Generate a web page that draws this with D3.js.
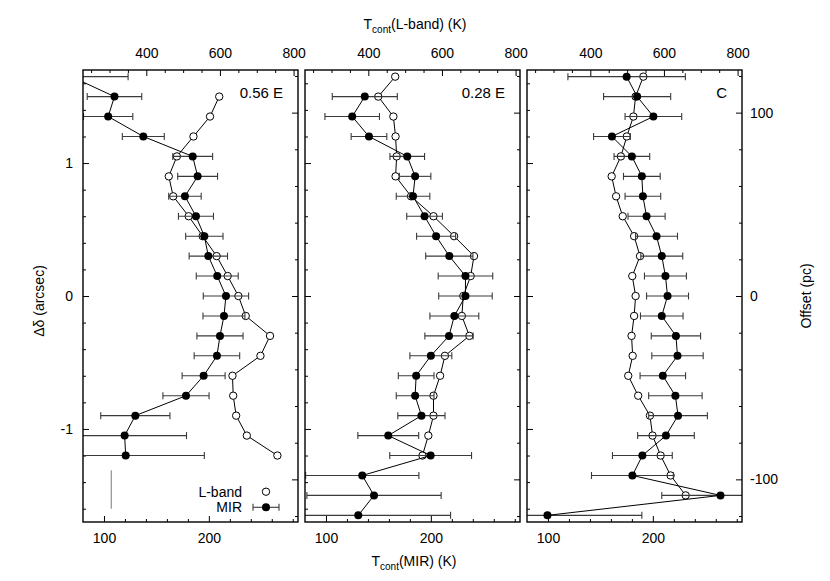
<!DOCTYPE html>
<html><head><meta charset="utf-8">
<script src="https://cdn.jsdelivr.net/npm/d3@7"></script>
<style>
body{margin:0;background:#fff;}
text{font-family:"Liberation Sans",Arial,Helvetica,sans-serif;fill:#000;}
</style>
</head><body>
<svg id="c" width="830" height="581" xmlns="http://www.w3.org/2000/svg"></svg>
<script>
// ---- data ----
const offsets = [1.65,1.5,1.35,1.2,1.05,0.9,0.75,0.6,0.45,0.3,0.15,0,-0.15,-0.3,-0.45,-0.6,-0.75,-0.9,-1.05,-1.2,-1.35,-1.5,-1.65];
const panelLabels = ["0.56 E","0.28 E","C"];

const mir_056    = [69,110,104,137.5,184.6,189.3,177.2,187.7,195.7,199.5,208,216.3,214.4,210.6,207.7,195,178.2,129.9,119.7,120.7,null,null,null];
const mirErr_056 = [54,26,23.5,20,19,19,15.5,16.7,17.8,18.3,20,21.6,20,22,21.7,20.5,22,33,59,75,null,null,null];
const lband_056  = [null,598,573,528,483,461,473,515,553,591,621,650,670,736,710,634,636,644,673,756,null,null,null];

const mir_028    = [null,137,125,141,177.5,185,183,194,205,217.6,233,233,222.4,217.3,200,186,185,191,159.4,199.8,134.6,145.8,130.8];
const mirErr_028 = [null,31,26,17,16.5,15,16,17,18.6,22.5,26,25.5,23.3,23,20,17,18,22.5,29,39,54,64,88];
const lband_028  = [473,427,468,474,477,474,516,577,633,687,678,658,654,674.5,608,595,577,577,563,547,null,null,null];

const mir_C      = [175,185,200.5,161,180,189.5,190.5,194,203.5,208.5,212,214,208.5,222,223.5,209.5,221.5,224,212.5,190,180.5,264.5,99.5];
const mirErr_C   = [56,32,27,17.5,17,17.5,17,17.7,20,20,20,20,20.3,23.5,24.5,21.7,25.5,28,27,28.5,39,56,90];
const lband_C    = [544,523,517,499,483,458,470,488,519,535,514,523,519,512,515,503,530,562,569,591,618,659,null];

const lbandTickLabels = [400,600,800];
const mirTickLabels = [100,200];
const arcsecTickLabels = [-1,0,1];
const pcTickLabels = [-100,0,100];
const pcPerArcsec = 72.5;
const resolutionBar = {t:107, from:-1.31, to:-1.6};

const panels = [
  {label:panelLabels[0], mir:mir_056, err:mirErr_056, lb:lband_056},
  {label:panelLabels[1], mir:mir_028, err:mirErr_028, lb:lband_028},
  {label:panelLabels[2], mir:mir_C,   err:mirErr_C,   lb:lband_C}
];

// ---- layout ----
const svg = d3.select("#c");
const FONT = '"Liberation Sans",Arial,Helvetica,sans-serif';
const W = 215, TOP = 70, BOT = 522;
const lefts = [83, 305, 527];
const y = d3.scaleLinear().domain([-1.7,1.7]).range([BOT,TOP]);
const yPc = d3.scaleLinear().domain([-1.7*pcPerArcsec,1.7*pcPerArcsec]).range([BOT,TOP]);
const isInt = v => Math.abs(v-Math.round(v))<1e-9;

panels.forEach((p,i)=>{
  const x0 = lefts[i], x1 = x0+W;
  const xM = d3.scaleLinear().domain([80,285]).range([x0,x1]);
  const xL = d3.scaleLinear().domain([228,812]).range([x0,x1]);

  // clip
  const cid = "clip"+i;
  svg.append("clipPath").attr("id",cid).append("rect")
    .attr("x",x0).attr("y",TOP).attr("width",W).attr("height",BOT-TOP);

  // top axis (L-band)
  const gt = svg.append("g").attr("transform",`translate(0,${TOP})`)
    .call(d3.axisTop(xL).tickValues(d3.range(250,801,50)).tickSizeInner(-3).tickSizeOuter(0)
      .tickFormat(d=> lbandTickLabels.includes(d)? d : ""));
  gt.select(".domain").remove();
  gt.attr("font-family",FONT).attr("font-size",14);
  gt.selectAll(".tick line").attr("stroke","#000").attr("y2",d=>lbandTickLabels.includes(d)?6:3);
  gt.selectAll(".tick text").attr("y",-12).attr("dy",0).attr("fill","#000");

  // bottom axis (MIR)
  const gb = svg.append("g").attr("transform",`translate(0,${BOT})`)
    .call(d3.axisBottom(xM).tickValues(d3.range(100,281,20)).tickSizeInner(-3).tickSizeOuter(0)
      .tickFormat(d=> mirTickLabels.includes(d)? d : ""));
  gb.select(".domain").remove();
  gb.attr("font-family",FONT).attr("font-size",14);
  gb.selectAll(".tick line").attr("stroke","#000").attr("y2",d=>mirTickLabels.includes(d)?-6:-3);
  gb.selectAll(".tick text").attr("y",21).attr("dy",0).attr("fill","#000");

  // left ticks (arcsec)
  const gl = svg.append("g").attr("transform",`translate(${x0},0)`)
    .call(d3.axisRight(y).tickValues(d3.range(-16,17,2).map(v=>v/10)).tickSizeInner(3).tickSizeOuter(0).tickFormat(""));
  gl.select(".domain").remove();
  gl.selectAll(".tick line").attr("stroke","#000").attr("x2",d=>isInt(d)?6:3);

  // right ticks (pc)
  const gr = svg.append("g").attr("transform",`translate(${x1},0)`)
    .call(d3.axisLeft(yPc).tickValues(d3.range(-120,121,20)).tickSizeInner(3).tickSizeOuter(0).tickFormat(""));
  gr.select(".domain").remove();
  gr.selectAll(".tick line").attr("stroke","#000").attr("x2",d=>d%100===0?-6:-3);

  // data
  const rows = offsets.map((o,k)=>({o, m:p.mir[k], e:p.err[k], l:p.lb[k]}));
  const gd = svg.append("g").attr("clip-path",`url(#${cid})`);

  const lrows = rows.filter(r=>r.l!=null);
  gd.append("path").datum(lrows).attr("fill","none").attr("stroke","#000").attr("stroke-width",1)
    .attr("d", d3.line().x(r=>xL(r.l)).y(r=>y(r.o)));
  gd.selectAll(".lb").data(lrows).join("circle").attr("class","lb")
    .attr("cx",r=>xL(r.l)).attr("cy",r=>y(r.o)).attr("r",3.7)
    .attr("fill","#fff").attr("stroke","#000").attr("stroke-width",1);

  const mrows = rows.filter(r=>r.m!=null);
  const eb = gd.selectAll(".eb").data(mrows).join("g").attr("class","eb")
    .attr("stroke","#3a3a3a").attr("stroke-width",1.1);
  eb.append("line").attr("x1",r=>xM(r.m-r.e)).attr("x2",r=>xM(r.m+r.e)).attr("y1",r=>y(r.o)).attr("y2",r=>y(r.o));
  eb.append("line").attr("x1",r=>xM(r.m-r.e)).attr("x2",r=>xM(r.m-r.e)).attr("y1",r=>y(r.o)-3.5).attr("y2",r=>y(r.o)+3.5);
  eb.append("line").attr("x1",r=>xM(r.m+r.e)).attr("x2",r=>xM(r.m+r.e)).attr("y1",r=>y(r.o)-3.5).attr("y2",r=>y(r.o)+3.5);

  gd.append("path").datum(mrows).attr("fill","none").attr("stroke","#000").attr("stroke-width",1)
    .attr("d", d3.line().x(r=>xM(r.m)).y(r=>y(r.o)));
  gd.selectAll(".mp").data(mrows).join("circle").attr("class","mp")
    .attr("cx",r=>xM(r.m)).attr("cy",r=>y(r.o)).attr("r",4).attr("fill","#000");

  // frame
  svg.append("rect").attr("x",x0).attr("y",TOP).attr("width",W).attr("height",BOT-TOP)
    .attr("fill","none").attr("stroke","#000").attr("stroke-width",1.4);

  // panel label
  svg.append("text").attr("x",x1-15).attr("y",97.5).attr("text-anchor","end")
    .attr("font-size",15).text(p.label);

  if(i===0){
    // left tick labels
    arcsecTickLabels.forEach(v=>{
      svg.append("text").attr("x",x0-10).attr("y",y(v)+5).attr("text-anchor","end")
        .attr("font-size",14).text(v);
    });
    // resolution bar
    gd.append("line").attr("x1",xM(resolutionBar.t)).attr("x2",xM(resolutionBar.t))
      .attr("y1",y(resolutionBar.from)).attr("y2",y(resolutionBar.to))
      .attr("stroke","#999").attr("stroke-width",1.3);
    // legend
    const lx = 266, ly1 = 491.7, ly2 = 507.3;
    svg.append("text").attr("x",242).attr("y",ly1+5).attr("text-anchor","end").attr("font-size",14).text("L-band");
    svg.append("circle").attr("cx",lx).attr("cy",ly1).attr("r",3.7).attr("fill","#fff").attr("stroke","#000");
    svg.append("text").attr("x",242).attr("y",ly2+5).attr("text-anchor","end").attr("font-size",14).text("MIR");
    const lg = svg.append("g").attr("stroke","#3a3a3a").attr("stroke-width",1.1);
    lg.append("line").attr("x1",lx-13).attr("x2",lx+13).attr("y1",ly2).attr("y2",ly2);
    lg.append("line").attr("x1",lx-13).attr("x2",lx-13).attr("y1",ly2-3.5).attr("y2",ly2+3.5);
    lg.append("line").attr("x1",lx+13).attr("x2",lx+13).attr("y1",ly2-3.5).attr("y2",ly2+3.5);
    svg.append("circle").attr("cx",lx).attr("cy",ly2).attr("r",4).attr("fill","#000");
  }
  if(i===2){
    pcTickLabels.forEach(v=>{
      svg.append("text").attr("x",x1+8).attr("y",yPc(v)+5).attr("text-anchor","start")
        .attr("font-size",14).text(v);
    });
  }
});

// axis titles
const tt = svg.append("text").attr("x",415).attr("y",29).attr("text-anchor","middle").attr("font-size",14);
tt.append("tspan").text("T");
tt.append("tspan").attr("font-size",10).attr("dy",4).text("cont");
tt.append("tspan").attr("dy",-4).text("(L-band) (K)");

const bt = svg.append("text").attr("x",414).attr("y",566).attr("text-anchor","middle").attr("font-size",14);
bt.append("tspan").text("T");
bt.append("tspan").attr("font-size",10).attr("dy",4).text("cont");
bt.append("tspan").attr("dy",-4).text("(MIR) (K)");

svg.append("text").attr("transform","translate(44,301) rotate(-90)").attr("text-anchor","middle")
  .attr("font-size",14).text("Δδ (arcsec)");
svg.append("text").attr("transform","translate(811,296) rotate(-90)").attr("text-anchor","middle")
  .attr("font-size",14).text("Offset (pc)");
</script>
</body></html>
